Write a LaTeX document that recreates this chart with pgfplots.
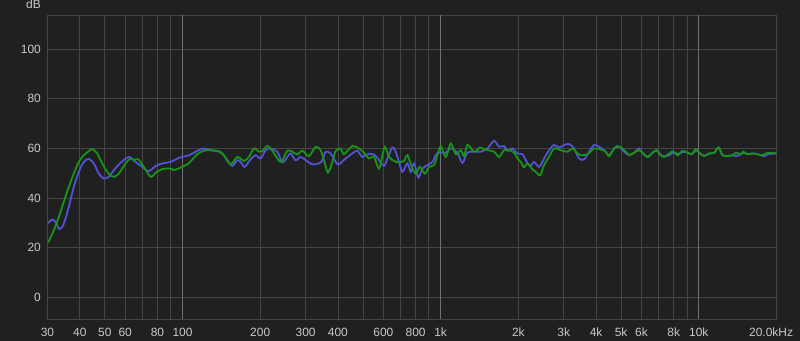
\documentclass[border=0pt]{standalone}
\usepackage{fontspec}
\setmainfont{Liberation Sans}
\usepackage{pgfplots}
\pgfplotsset{compat=1.18}
\definecolor{bg}{RGB}{32,32,32}
\definecolor{gridc}{RGB}{68,68,68}
\definecolor{majc}{RGB}{112,112,112}
\definecolor{txt}{RGB}{200,200,200}
\definecolor{cblue}{RGB}{82,82,215}
\definecolor{cgreen}{RGB}{22,150,22}
\begin{document}
\begin{tikzpicture}
\fill[bg] (-47.5bp,-22bp) rectangle (752.5bp,319bp);
\begin{axis}[
  at={(0,0)}, anchor=south west,
  scale only axis, width=729bp, height=304bp,
  xmin=1.47712, xmax=4.30103, ymin=-8.7, ymax=113.8,
  axis line style={gridc, line width=0.8bp},
  grid=major, grid style={gridc, line width=0.8bp},
  major tick length=0pt,
  tick label style={text=txt, font=\fontsize{12}{14}\selectfont},
  xtick={1.47712,1.60206,1.69897,1.77815,1.84510,1.90309,1.95424,2.30103,2.47712,2.60206,2.69897,2.77815,2.84510,2.90309,2.95424,3.30103,3.47712,3.60206,3.69897,3.77815,3.84510,3.90309,3.95424,4.30103},
  xticklabels={30,40,50,60,,80,,200,300,400,,600,,800,,2k,3k,4k,5k,6k,,8k,,\makebox[33bp][r]{20.0kHz}},
  extra x ticks={2,3,4},
  extra x tick labels={100,1k,10k},
  extra x tick style={grid style={majc, line width=0.8bp}},
  xticklabel style={anchor=base, yshift=-17bp},
  ytick={0,20,40,60,80,100},
  yticklabels={0,20,40,60,80,100},
  yticklabel style={anchor=east, inner sep=0pt, xshift=-6.5bp},
]
\addplot[cblue, line width=1.8bp, smooth, tension=0.5] coordinates {
(1.4771,30.0) (1.4821,30.2) (1.4953,31.4) (1.5081,30.4) (1.5236,27.5) (1.5403,29.7) (1.5597,36.5) (1.5790,44.5) (1.5984,50.6) (1.6178,54.6) (1.6372,55.8) (1.6566,54.0) (1.6759,49.9) (1.6953,47.9) (1.7147,48.6) (1.7341,51.3) (1.7600,54.2) (1.7922,56.6) (1.8182,54.6) (1.8442,52.6) (1.8697,50.9) (1.8957,52.9) (1.9217,54.0) (1.9538,54.6) (1.9860,56.2) (2.0248,57.3) (2.0507,58.7) (2.0806,60.0) (2.1089,59.3) (2.1349,58.9) (2.1542,58.0) (2.1736,55.3) (2.1930,53.0) (2.2124,55.3) (2.2252,54.6) (2.2407,52.6) (2.2612,55.3) (2.2833,57.3) (2.3027,56.0) (2.3221,59.3) (2.3414,60.0) (2.3674,58.7) (2.3868,54.4) (2.4062,56.6) (2.4190,58.0) (2.4383,55.3) (2.4577,56.6) (2.4771,55.3) (2.5031,53.6) (2.5286,54.0) (2.5418,55.3) (2.5546,58.7) (2.5740,58.0) (2.5934,54.6) (2.6062,53.6) (2.6321,56.0) (2.6581,58.0) (2.6775,59.1) (2.6969,56.6) (2.7162,57.7) (2.7418,57.6) (2.7612,55.3) (2.7806,53.0) (2.7938,56.0) (2.8131,60.4) (2.8259,58.7) (2.8387,54.6) (2.8519,50.6) (2.8713,54.0) (2.8841,50.6) (2.8969,54.0) (2.9139,48.3) (2.9294,51.9) (2.9488,53.3) (2.9682,54.6) (2.9810,57.3) (2.9938,58.4) (3.0197,58.3) (3.0391,60.0) (3.0651,58.3) (3.0845,54.2) (3.1038,58.3) (3.1360,58.7) (3.1554,58.7) (3.1814,60.0) (3.2069,63.1) (3.2263,60.7) (3.2457,61.0) (3.2589,59.1) (3.2783,60.0) (3.2976,58.0) (3.3170,57.7) (3.3298,55.3) (3.3465,52.9) (3.3620,54.6) (3.3814,52.6) (3.4007,56.0) (3.4201,59.3) (3.4395,61.4) (3.4589,60.4) (3.4783,61.4) (3.4976,61.8) (3.5170,60.0) (3.5364,56.0) (3.5558,55.6) (3.5752,58.7) (3.5945,61.4) (3.6139,60.7) (3.6333,59.3) (3.6527,57.3) (3.6721,60.0) (3.6914,60.7) (3.7108,58.7) (3.7302,57.3) (3.7496,58.3) (3.7690,60.0) (3.7821,58.3) (3.8015,56.6) (3.8209,58.3) (3.8364,59.3) (3.8531,57.3) (3.8658,56.9) (3.8852,57.3) (3.9007,58.3) (3.9240,57.7) (3.9372,58.7) (3.9566,58.3) (3.9732,57.7) (3.9887,59.3) (4.0042,58.0) (4.0209,57.0) (4.0403,58.0) (4.0597,58.3) (4.0767,60.4) (4.0922,57.3) (4.1116,57.0) (4.1309,57.3) (4.1438,56.9) (4.1631,57.7) (4.1721,58.3) (4.1891,57.7) (4.2085,58.0) (4.2279,57.7) (4.2535,56.9) (4.2666,57.7) (4.3010,58.0)
};
\addplot[cgreen, line width=1.8bp, smooth, tension=0.5] coordinates {
(1.4771,22.3) (1.4821,22.7) (1.5015,27.0) (1.5209,32.4) (1.5403,38.5) (1.5597,44.5) (1.5790,49.9) (1.5984,54.6) (1.6178,57.3) (1.6372,58.9) (1.6504,59.8) (1.6697,58.0) (1.6891,54.0) (1.7147,49.7) (1.7341,48.6) (1.7535,49.9) (1.7794,54.0) (1.7988,56.0) (1.8116,55.3) (1.8286,55.7) (1.8504,52.6) (1.8763,48.6) (1.8957,50.2) (1.9217,51.7) (1.9538,51.9) (1.9666,51.3) (1.9992,52.6) (2.0248,54.0) (2.0376,55.5) (2.0573,57.7) (2.0829,59.1) (2.1089,59.3) (2.1411,58.9) (2.1604,57.3) (2.1736,55.0) (2.1891,53.7) (2.2124,56.6) (2.2380,55.0) (2.2573,56.6) (2.2767,60.0) (2.2961,58.7) (2.3093,58.9) (2.3287,61.0) (2.3480,59.1) (2.3674,56.0) (2.3829,54.6) (2.4062,59.1) (2.4255,58.7) (2.4449,57.6) (2.4643,59.1) (2.4899,56.9) (2.5159,60.7) (2.5352,59.3) (2.5480,55.3) (2.5635,50.3) (2.5806,54.6) (2.5934,59.0) (2.6128,60.0) (2.6255,57.7) (2.6581,61.0) (2.6837,60.0) (2.7031,58.3) (2.7224,56.0) (2.7418,56.6) (2.7612,51.9) (2.7744,57.3) (2.7845,60.7) (2.8000,56.6) (2.8193,55.0) (2.8387,54.4) (2.8581,55.0) (2.8713,57.3) (2.8880,52.6) (2.9035,49.9) (2.9190,52.6) (2.9395,49.9) (2.9550,52.6) (2.9744,53.3) (2.9876,57.3) (3.0004,61.0) (3.0197,56.6) (3.0391,62.0) (3.0585,57.7) (3.0779,59.3) (3.0907,56.9) (3.1038,61.4) (3.1232,59.3) (3.1360,58.7) (3.1515,60.4) (3.1748,59.5) (3.2069,58.7) (3.2263,56.6) (3.2457,59.3) (3.2651,59.3) (3.2845,58.3) (3.2976,56.0) (3.3104,54.6) (3.3232,52.4) (3.3364,54.0) (3.3558,51.6) (3.3686,50.6) (3.3852,49.3) (3.4007,53.3) (3.4201,56.6) (3.4395,60.0) (3.4655,59.3) (3.4914,58.7) (3.5108,60.0) (3.5302,58.0) (3.5430,57.3) (3.5689,57.7) (3.5945,60.0) (3.6205,59.6) (3.6399,58.7) (3.6527,56.9) (3.6721,60.0) (3.6852,61.0) (3.7046,60.0) (3.7240,58.0) (3.7302,57.3) (3.7496,58.3) (3.7690,59.3) (3.7821,58.3) (3.8015,56.6) (3.8209,58.3) (3.8364,59.3) (3.8531,57.3) (3.8658,56.6) (3.8852,58.0) (3.9007,58.9) (3.9178,57.3) (3.9372,59.1) (3.9566,58.3) (3.9732,57.7) (3.9887,59.8) (4.0042,58.0) (4.0209,57.0) (4.0403,58.0) (4.0597,58.3) (4.0767,60.4) (4.0922,57.3) (4.1116,57.0) (4.1309,57.3) (4.1438,58.3) (4.1631,57.7) (4.1721,58.7) (4.1891,57.7) (4.2085,58.0) (4.2279,57.7) (4.2473,57.3) (4.2666,58.3) (4.3010,58.0)
};
\end{axis}
\node[anchor=base east, text=txt, inner sep=0pt, font=\fontsize{12}{14}\selectfont] at (-6.5bp,310bp) {dB};
\end{tikzpicture}
\end{document}
